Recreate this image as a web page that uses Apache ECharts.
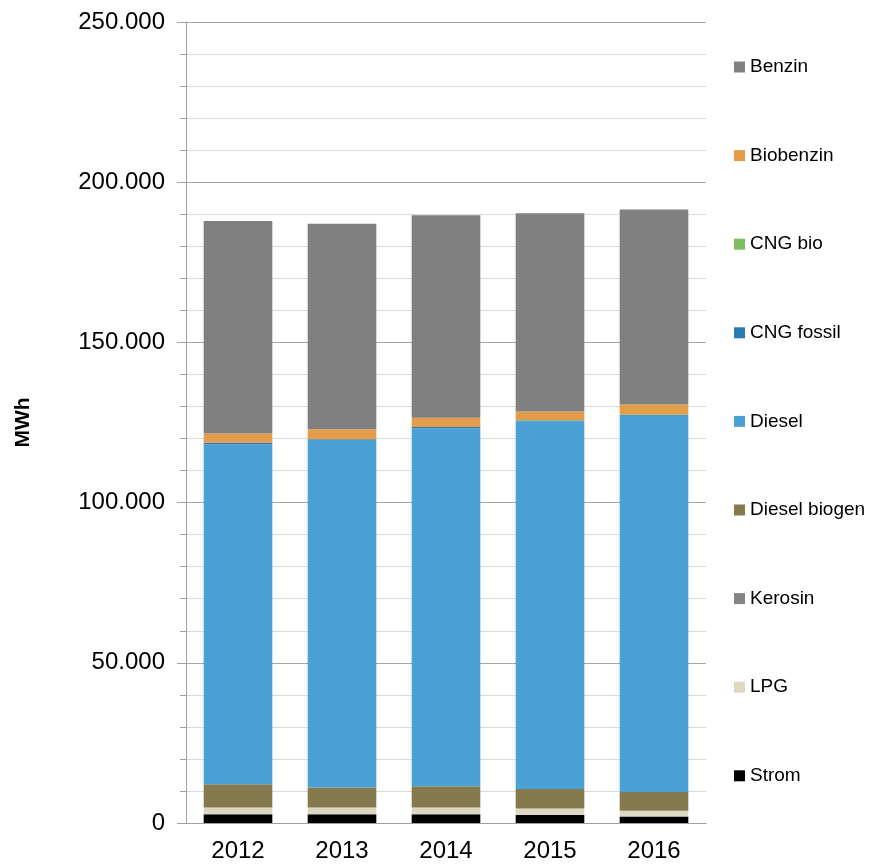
<!DOCTYPE html>
<html><head><meta charset="utf-8">
<script src="https://cdn.jsdelivr.net/npm/echarts@6/dist/echarts.min.js"></script>
<style>html,body{margin:0;padding:0;background:#fff}#c{width:872px;height:865px}</style>
</head><body><div id="c"></div>
<script>
const categories = ['2012','2013','2014','2015','2016'];
const strom        = [2700, 2700, 2700, 2500, 2000];
const lpg          = [2100, 2100, 2100, 2000, 1800];
const kerosin      = [0, 0, 0, 0, 0];
const dieselBiogen = [7300, 6300, 6700, 6100, 5900];
const diesel       = [106100, 108400, 111700, 114700, 117400];
const cngFossil    = [500, 300, 400, 300, 300];
const cngBio       = [0, 0, 0, 200, 200];
const biobenzin    = [2900, 3100, 2900, 2600, 3000];
const benzin       = [66300, 64100, 63200, 61900, 60900];
const yTicks = [0, 50000, 100000, 150000, 200000, 250000];

const seriesDefs = [
  ['Strom', strom, '#000000'],
  ['LPG', lpg, '#ddd8c3'],
  ['Kerosin', kerosin, '#858585'],
  ['Diesel biogen', dieselBiogen, '#847a4d'],
  ['Diesel', diesel, '#4ba0d6'],
  ['CNG fossil', cngFossil, '#2a7cb3'],
  ['CNG bio', cngBio, '#7dbf5c'],
  ['Biobenzin', biobenzin, '#e49c4a'],
  ['Benzin', benzin, '#808080']
];
function fmt(v){ return String(v).replace(/\B(?=(\d{3})+(?!\d))/g, '.'); }

const chart = echarts.init(document.getElementById('c'), null, {renderer:'canvas'});
chart.setOption({
  animation: false,
  textStyle: {fontFamily: 'Liberation Sans, Arial, sans-serif'},
  grid: {left: 186, right: 166, top: 22, bottom: 42},
  legend: {
    orient: 'vertical', left: 734, top: 57, padding: 0,
    itemWidth: 11, itemHeight: 11, itemGap: 68.6,
    icon: 'rect',
    data: ['Benzin','Biobenzin','CNG bio','CNG fossil','Diesel','Diesel biogen','Kerosin','LPG','Strom'],
    textStyle: {fontSize: 19, color: '#000', lineHeight: 20}
  },
  xAxis: {
    type: 'category', data: categories,
    axisLine: {lineStyle: {color: '#a0a0a0', width: 1}},
    axisTick: {length: 7, lineStyle: {color: '#a0a0a0'}},
    axisLabel: {fontSize: 24, color: '#000', margin: 16}
  },
  yAxis: {
    type: 'value', min: yTicks[0], max: yTicks[yTicks.length-1], interval: 50000,
    name: 'MWh', nameLocation: 'middle', nameGap: 152, nameRotate: 90,
    nameTextStyle: {fontSize: 21, fontWeight: 'bold', color: '#000'},
    axisLine: {show: true, lineStyle: {color: '#a0a0a0', width: 1}},
    axisTick: {show: true, length: 9, lineStyle: {color: '#a0a0a0'}},
    minorTick: {show: true, splitNumber: 5, length: 6, lineStyle: {color: '#a0a0a0'}},
    splitLine: {lineStyle: {color: '#a6a6a6', width: 1}},
    minorSplitLine: {show: true, lineStyle: {color: '#d9d9d9', width: 1}},
    axisLabel: {fontSize: 24, color: '#000', margin: 21, formatter: fmt}
  },
  series: seriesDefs.map(([name, data, color]) => ({
    name, type: 'bar', stack: 'total', data, barCategoryGap: '34%',
    itemStyle: {color}
  }))
});
</script></body></html>
